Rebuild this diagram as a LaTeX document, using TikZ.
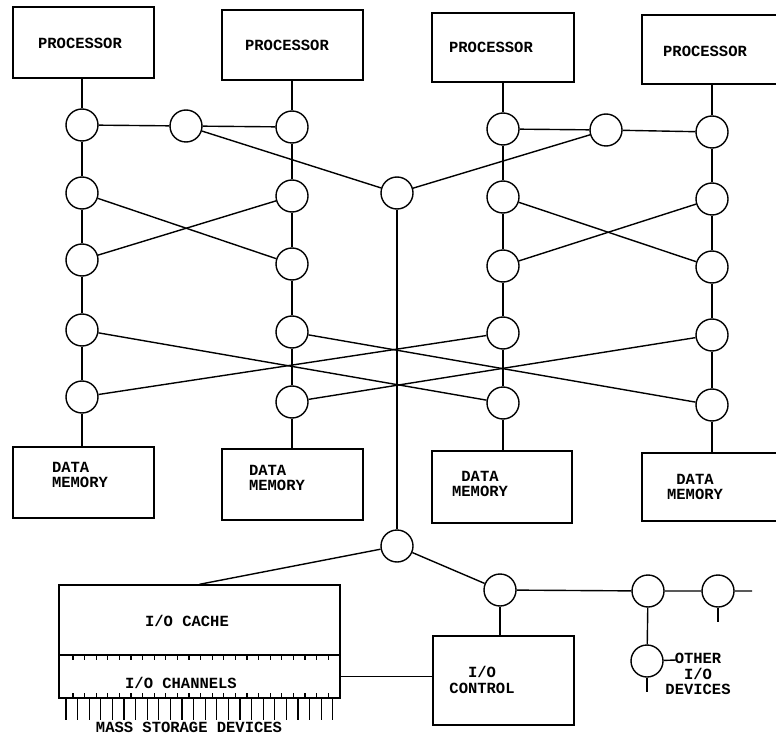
\documentclass[tikz,border=0pt]{standalone}
\usepackage{fontspec}
\setmonofont{Liberation Mono}
\begin{document}
\begin{tikzpicture}[x=1pt,y=-1pt,line width=1.4pt,
  sw/.style={circle,draw,minimum size=32pt,inner sep=0pt},
  box/.style={draw,rectangle,inner sep=0pt},
  lbl/.style={font=\ttfamily\bfseries\fontsize{15.5}{15.5}\selectfont,inner sep=0pt},
  tick/.style={line width=1.1pt}]
\useasboundingbox (0,0) rectangle (776,735);
% processors
\node[box,minimum width=141pt,minimum height=71pt] (p1) at (83.5,42.5) {};
\node[box,minimum width=141pt,minimum height=70pt] (p2) at (292.5,45) {};
\node[box,minimum width=142pt,minimum height=69pt] (p3) at (503,47.5) {};
\node[box,minimum width=140pt,minimum height=69pt] (p4) at (712,49.5) {};
\node[lbl] (p1t) at (80,43) {PROCESSOR};
\node[lbl] (p2t) at (287,45) {PROCESSOR};
\node[lbl] (p3t) at (491,47) {PROCESSOR};
\node[lbl] (p4t) at (705,51) {PROCESSOR};
% data memories
\node[box,minimum width=141pt,minimum height=71pt] (d1) at (83.5,482.5) {};
\node[box,minimum width=141pt,minimum height=71pt] (d2) at (292.5,484.5) {};
\node[box,minimum width=140pt,minimum height=72pt] (d3) at (502,487) {};
\node[box,minimum width=140pt,minimum height=68pt] (d4) at (712,487) {};
\node[lbl,align=left] (d1t) at (80,475) {DATA\\MEMORY};
\node[lbl,align=left] (d2t) at (277,478) {DATA\\MEMORY};
\node[lbl,align=center] (d3t) at (480,484) {DATA\\MEMORY};
\node[lbl,align=center] (d4t) at (695,487) {DATA\\MEMORY};
% switches
\node[sw] (c11) at (82,125) {};
\node[sw] (c12) at (82,193) {};
\node[sw] (c13) at (82,260) {};
\node[sw] (c14) at (82,330) {};
\node[sw] (c15) at (82,397) {};
\node[sw] (c21) at (292,127) {};
\node[sw] (c22) at (292,196) {};
\node[sw] (c23) at (292,264) {};
\node[sw] (c24) at (292,332) {};
\node[sw] (c25) at (292,402) {};
\node[sw] (c31) at (503,129) {};
\node[sw] (c32) at (503,197) {};
\node[sw] (c33) at (503,266) {};
\node[sw] (c34) at (503,333) {};
\node[sw] (c35) at (503,403) {};
\node[sw] (c41) at (712,132) {};
\node[sw] (c42) at (712,199) {};
\node[sw] (c43) at (712,267) {};
\node[sw] (c44) at (712,335) {};
\node[sw] (c45) at (712,405) {};
\node[sw] (m1) at (186,126) {};
\node[sw] (m2) at (606,130) {};
\node[sw] (cc) at (397,193) {};
\node[sw] (cb) at (397,546) {};
% column verticals
\foreach \c/\p/\d in {1/p1/d1,2/p2/d2,3/p3/d3,4/p4/d4}{
  \draw (c\c1 |- \p.south) -- (c\c1) -- (c\c2) -- (c\c3) -- (c\c4) -- (c\c5) -- (c\c5 |- \d.north);
}
% top row links
\draw (c11) -- (m1) -- (c21);
\draw (c31) -- (m2) -- (c41);
\draw (m1) -- (cc) -- (m2);
% crossings rows 2-3
\draw (c12) -- (c23);
\draw (c22) -- (c13);
\draw (c32) -- (c43);
\draw (c42) -- (c33);
% crossings rows 4-5
\draw (c14) -- (c35);
\draw (c24) -- (c45);
\draw (c34) -- (c15);
\draw (c44) -- (c25);
% central bus
\draw (cc) -- (cb);
% I/O section
\node[box,minimum width=281pt,minimum height=70pt] (cache) at (199.5,620) {};
\node[box,minimum width=281pt,minimum height=43pt] (chan) at (199.5,676.5) {};
\node[lbl] (cachet) at (187,621) {I/O CACHE};
\node[lbl] (chant) at (181,683) {I/O CHANNELS};
\node[lbl] (masst) at (189,727) {MASS STORAGE DEVICES};
\foreach \k in {0,...,22}{
  \draw[tick] ({73+11.6*\k},655) -- ++(0,5);
  \draw[tick] ({73+11.6*\k},698) -- ++(0,-5);
}
\foreach \k in {0,...,23}{
  \draw[tick] ({66+11.6*\k},698) -- ++(0,22);
}
\node[box,minimum width=141pt,minimum height=89pt] (ioc) at (503.5,680.5) {};
\node[lbl,align=center] (ioct) at (482,680) {I/O\\CONTROL};
\node[sw] (io1) at (500,590) {};
\node[sw] (io2) at (648,591) {};
\node[sw] (io3) at (718,591) {};
\node[sw] (io4) at (647,661) {};
\coordinate (e3) at (752,591);
\coordinate (s3) at (718,622);
\coordinate (e4) at (676,660);
\coordinate (s4) at (647,692);
\draw (cb) -- (cache.north);
\draw (cb) -- (io1);
\draw (io1) -- (io1 |- ioc.north);
\draw (chan.east) -- (chan.east -| ioc.west);
\draw (io1) -- (io2) -- (io3) -- (e3);
\draw (io3) -- (s3);
\draw (io2) -- (io4);
\draw (io4) -- (e4);
\draw (io4) -- (s4);
\node[lbl,align=center] (other) at (698,674) {OTHER\\I/O\\DEVICES};
\end{tikzpicture}
\end{document}
